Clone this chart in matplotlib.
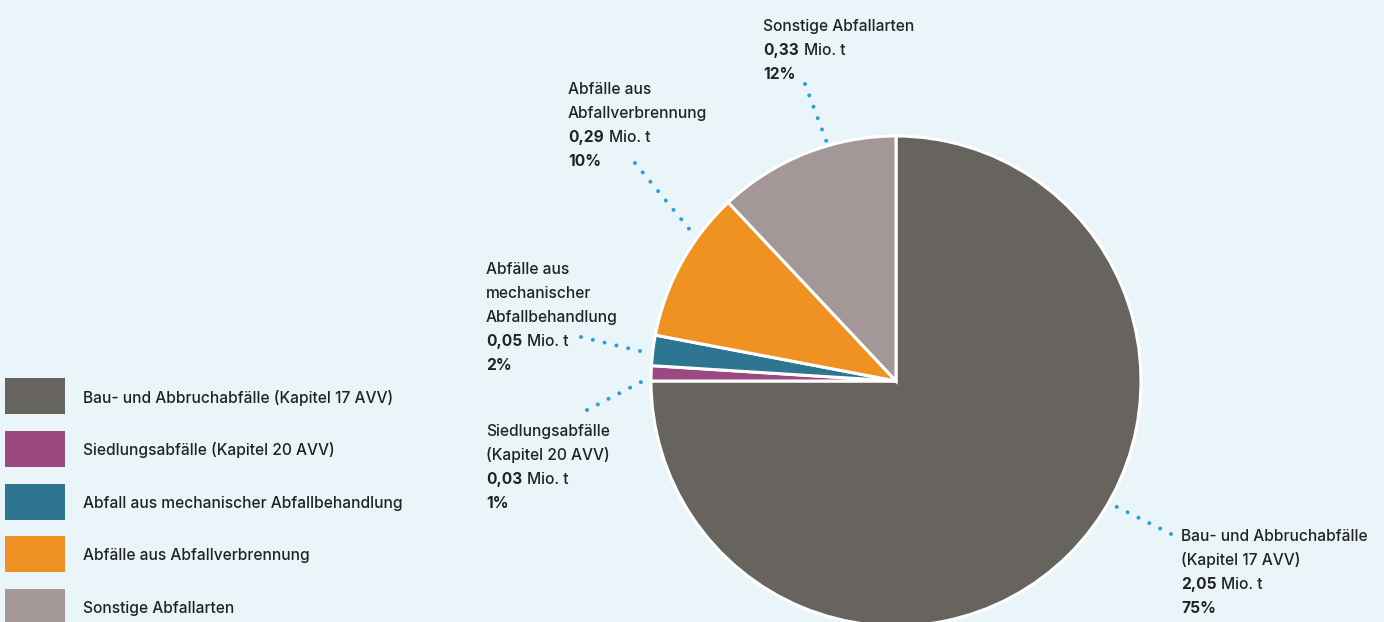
import matplotlib
matplotlib.use("Agg")
import matplotlib.pyplot as plt
from matplotlib.patches import Rectangle

categories = [
    "Bau- und Abbruchabfälle (Kapitel 17 AVV)",
    "Siedlungsabfälle (Kapitel 20 AVV)",
    "Abfall aus mechanischer Abfallbehandlung",
    "Abfälle aus Abfallverbrennung",
    "Sonstige Abfallarten",
]
label_names = [
    "Bau- und Abbruchabfälle\n(Kapitel 17 AVV)",
    "Siedlungsabfälle\n(Kapitel 20 AVV)",
    "Abfälle aus\nmechanischer\nAbfallbehandlung",
    "Abfälle aus\nAbfallverbrennung",
    "Sonstige Abfallarten",
]
amounts = ["2,05", "0,03", "0,05", "0,29", "0,33"]
shares = [75, 1, 2, 10, 12]
colors = ["#67645f", "#9a4a80", "#2e7591", "#f09222", "#a39797"]

BG = "#eaf5fa"
TXT = "#222222"
DOT = "#2ba0d9"
FONT = "Inter"
FS = 11.2
REG = "medium"
W, H = 1384, 622

fig = plt.figure(figsize=(W / 100, H / 100), dpi=100, facecolor=BG)
ax = fig.add_axes([0, 0, 1, 1])
ax.set_aspect("equal")
ax.set_facecolor(BG)

def Y(py):
    return H - py

cx, cy, r = 896, Y(381), 245
ax.pie(shares, colors=colors, startangle=90, counterclock=False,
       center=(cx, cy), radius=r, frame=True,
       wedgeprops=dict(edgecolor="white", linewidth=2.2))
ax.set_xlim(0, W)
ax.set_ylim(0, H)
ax.axis("off")

layout = [
    dict(x=1181, y=541, line=((1171, 534), (1113, 505))),
    dict(x=486, y=436, line=((587, 410), (643, 381))),
    dict(x=486, y=274, line=((581, 337), (644, 352))),
    dict(x=568, y=94, line=((635, 163), (690, 230))),
    dict(x=763, y=31, line=((805, 84), (827, 143))),
]
LS = 24

for i, lay in enumerate(layout):
    names = label_names[i].split("\n")
    x, y = lay["x"], lay["y"]
    for k, nm in enumerate(names):
        ax.text(x, Y(y + k * LS), nm, fontsize=FS, family=FONT, color=TXT,
                va="baseline", ha="left", fontweight=REG)
    k = len(names)
    b = ax.text(x, Y(y + k * LS), amounts[i], fontsize=FS, family=FONT, color=TXT,
                va="baseline", ha="left", fontweight="bold")
    ax.annotate("Mio. t", xy=(1, Y(y + k * LS)), xycoords=(b, "data"),
                xytext=(3.5, 0), textcoords="offset points", fontweight=REG,
                fontsize=FS, family=FONT, color=TXT, va="baseline", ha="left")
    ax.text(x, Y(y + (k + 1) * LS), f"{shares[i]}%", fontsize=FS, family=FONT, color=TXT,
            va="baseline", ha="left", fontweight="bold")
    (x0, y0), (x1, y1) = lay["line"]
    ax.plot([x0, x1], [Y(y0), Y(y1)], color=DOT, lw=2.9,
            linestyle=(0, (0.01, 3.0)), dash_capstyle="round")

for i, (cat, col) in enumerate(zip(categories, colors)):
    yc = 396 + i * 52.8
    ax.add_patch(Rectangle((5, Y(yc + 18)), 60, 36, facecolor=col, edgecolor="none"))
    ax.text(83, Y(yc), cat, fontsize=FS, family=FONT, color=TXT,
            va="center_baseline", ha="left", fontweight=REG)

fig.savefig("out.png", dpi=100, facecolor=BG)
